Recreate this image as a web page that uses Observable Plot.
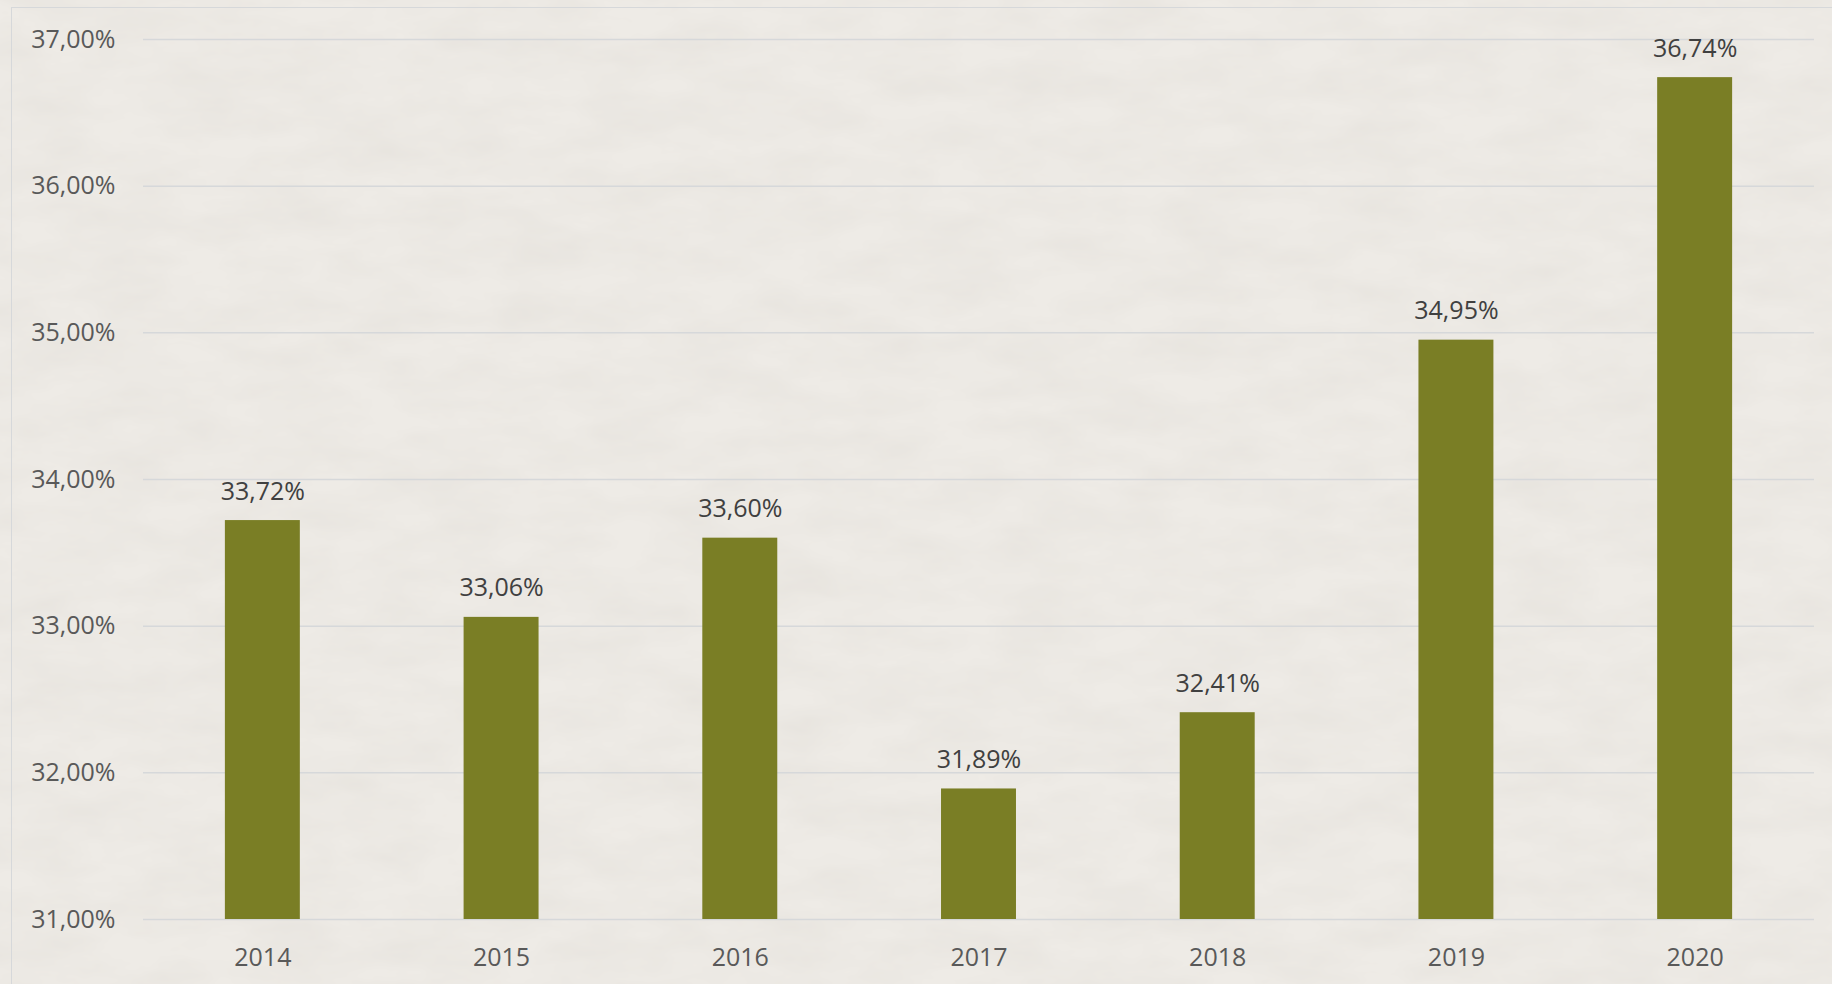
<!DOCTYPE html>
<html>
<head>
<meta charset="utf-8">
<script src="https://cdn.jsdelivr.net/npm/d3@7"></script>
<script src="https://cdn.jsdelivr.net/npm/@observablehq/plot@0.6"></script>
<style>
  html, body { margin: 0; padding: 0; background: #EEEBE6; overflow: hidden; }
  #wrap { position: relative; width: 1832px; height: 984px; }
  #texture { position: absolute; left: 0; top: 0; width: 1832px; height: 984px; pointer-events: none; }
  #frame { position: absolute; left: 11px; top: 7px; width: 1900px; height: 1100px; border: 1.5px solid #D6D8DA; box-sizing: border-box; pointer-events: none; }
  #chart { position: absolute; left: 0; top: 0; }
</style>
</head>
<body>
<div id="wrap">
  <svg id="texture" width="1832" height="984">
    <filter id="paper" x="0" y="0" width="100%" height="100%">
      <feTurbulence type="fractalNoise" baseFrequency="0.012 0.03" numOctaves="4" seed="7" result="n"/>
      <feColorMatrix type="matrix" values="0 0 0 0 0.55  0 0 0 0 0.52  0 0 0 0 0.47  0 0 0 0.22 -0.06"/>
    </filter>
    <rect width="1832" height="984" filter="url(#paper)"/>
  </svg>
  <div id="frame"></div>
  <div id="chart"></div>
</div>
<script>
const years = ["2014", "2015", "2016", "2017", "2018", "2019", "2020"];
const values = [33.72, 33.06, 33.60, 31.89, 32.41, 34.95, 36.74];
const yTicks = [31, 32, 33, 34, 35, 36, 37];
const yMin = 31, yMax = 37;

const data = years.map((y, i) => ({year: y, value: values[i]}));
const fmt = d => d.toFixed(2).replace(".", ",") + "%";

const chart = Plot.plot({
  width: 1832,
  height: 984,
  marginLeft: 143,
  marginRight: 18,
  marginTop: 39,
  marginBottom: 65,
  style: {fontFamily: "'Open Sans', sans-serif", fontSize: "25px", background: "transparent", color: "#595959"},
  x: {domain: years, round: false, paddingInner: 0.686, paddingOuter: 0.343, label: null, tickSize: 0, tickPadding: 29},
  y: {domain: [yMin, yMax], ticks: yTicks, tickFormat: fmt, label: null, tickSize: 0, tickPadding: 28},
  marks: [
    Plot.ruleY(yTicks, {stroke: "#D6D8DA", strokeWidth: 1.5, strokeOpacity: 1}),
    Plot.barY(data, {x: "year", y1: yMin, y2: "value", fill: "#7A7E25"}),
    Plot.text(data, {x: "year", y: "value", text: d => fmt(d.value), dy: -29, fill: "#404040", fontSize: 25}),
    Plot.axisX({tickSize: 0, tickPadding: 29, fill: "#595959"}),
    Plot.axisY({ticks: yTicks, tickFormat: fmt, tickSize: 0, tickPadding: 28, fill: "#595959"})
  ]
});
document.getElementById("chart").appendChild(chart);
</script>
</body>
</html>
